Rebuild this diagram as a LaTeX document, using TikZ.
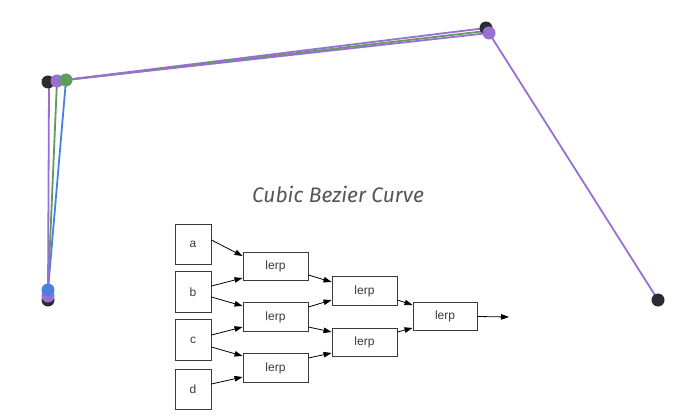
\documentclass[tikz,border=0pt]{standalone}
\usepackage{fontspec}
\setmainfont{Liberation Sans}
\newfontfamily\titlefont{Fira Sans}
\usetikzlibrary{arrows.meta}
\definecolor{cpurple}{HTML}{9A6FD2}
\definecolor{cgreen}{HTML}{5E9E5C}
\definecolor{cblue}{HTML}{4A80E2}
\definecolor{cdot}{HTML}{2B2B33}
\definecolor{cbox}{HTML}{3A3A3A}
\definecolor{ctitle}{HTML}{555555}
\tikzset{
  inbox/.style={draw=cbox, line width=0.9pt, fill=white, minimum width=36pt, minimum height=40pt, inner sep=0pt, font=\fontsize{12}{13}\selectfont, text=cbox},
  lerpbox/.style={draw=cbox, line width=0.9pt, fill=white, minimum width=65pt, minimum height=28.5pt, inner sep=0pt, font=\fontsize{12}{13}\selectfont, text=cbox},
  conn/.style={draw=black, line width=0.8pt, -{Triangle[length=8pt,width=5.5pt]}},
  cline/.style={line width=1.8pt},
  pdot/.style={circle, inner sep=0pt, minimum size=13pt}
}
\begin{document}
\begin{tikzpicture}[x=1pt,y=-1pt]
\useasboundingbox[fill=white] (0,0) rectangle (691,420);
% control points / interpolation points
\coordinate (p0) at (48,300);
\coordinate (p1) at (48,82);
\coordinate (p2) at (486,28);
\coordinate (p3) at (658,300);
\coordinate (q0) at (48,296);
\coordinate (q1) at (57,81);
\coordinate (q2) at (489,33);
\coordinate (r0) at (48,290);
\coordinate (r1) at (66,80);
% lines
\draw[cline, cpurple] (p1) -- (p2);
\draw[cline, cblue] (r0) -- (r1);
\draw[cline, cgreen] (r0) -- (q1);
\draw[cline, cgreen] (r1) -- (486,31);
\draw[cline, cpurple] (q0) -- (49,86);
\draw[cline, cpurple] (q1) -- (q2) -- (p3);
% dots
\node[pdot, fill=cdot] (d0) at (p0) {};
\node[pdot, fill=cpurple] (e0) at (q0) {};
\node[pdot, fill=cblue] (f0) at (r0) {};
\node[pdot, fill=cdot] (d1) at (p1) {};
\node[pdot, fill=cpurple] (e1) at (q1) {};
\node[pdot, fill=cgreen] (f1) at (r1) {};
\node[pdot, fill=cdot] (d2) at (p2) {};
\node[pdot, fill=cpurple] (e2) at (q2) {};
\node[pdot, fill=cdot] (d3) at (p3) {};
% title
\node[font=\titlefont\itshape\fontsize{21}{24}\selectfont, text=ctitle] (title) at (338,194) {Cubic Bezier Curve};
% boxes
\node[inbox] (a) at (193,244) {a};
\node[inbox, minimum height=41pt] (b) at (193,292) {b};
\node[inbox, minimum height=41pt] (c) at (193,340) {c};
\node[inbox] (d) at (193,389) {d};
\node[lerpbox] (l1) at (275.5,266.5) {lerp};
\node[lerpbox] (l2) at (275.5,317) {lerp};
\node[lerpbox] (l3) at (275.5,368) {lerp};
\node[lerpbox] (l4) at (364.5,291) {lerp};
\node[lerpbox] (l5) at (364.5,342.5) {lerp};
\node[lerpbox, minimum width=64pt] (l6) at (445,316.5) {lerp};
\coordinate (out) at (509,317);
% connectors
\draw[conn] ([yshift=4pt]a.east) -- ([yshift=10.5pt]l1.west);
\draw[conn] ([yshift=6pt]b.east) -- ([yshift=-11.5pt]l1.west);
\draw[conn] ([yshift=-5pt]b.east) -- ([yshift=11pt]l2.west);
\draw[conn] ([yshift=5pt]c.east) -- ([yshift=-10pt]l2.west);
\draw[conn] ([yshift=-7pt]c.east) -- ([yshift=12pt]l3.west);
\draw[conn] ([yshift=5pt]d.east) -- ([yshift=-9pt]l3.west);
\draw[conn] ([yshift=-8.5pt]l1.east) -- ([yshift=9pt]l4.west);
\draw[conn] ([yshift=10pt]l2.east) -- ([yshift=-9pt]l4.west);
\draw[conn] ([yshift=-10pt]l2.east) -- ([yshift=10.5pt]l5.west);
\draw[conn] ([yshift=10pt]l3.east) -- ([yshift=-10.5pt]l5.west);
\draw[conn] ([yshift=-9pt]l4.east) -- ([yshift=11.5pt]l6.west);
\draw[conn] ([yshift=10.5pt]l5.east) -- ([yshift=-11.5pt]l6.west);
\draw[conn] (l6.east) -- (out);
\end{tikzpicture}
\end{document}
